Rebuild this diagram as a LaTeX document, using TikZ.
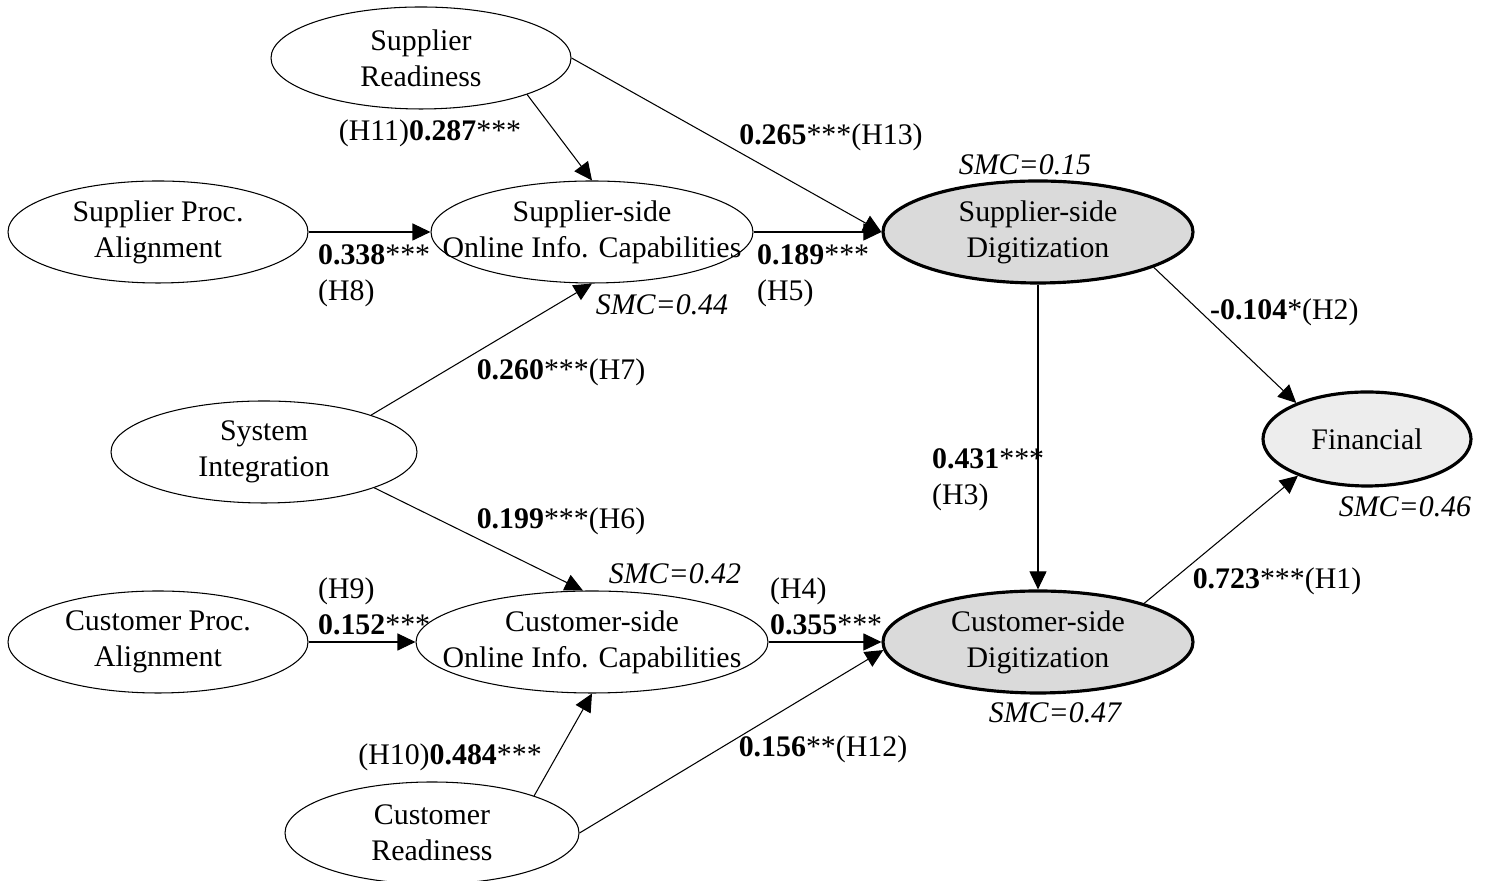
\documentclass[tikz,border=0pt]{standalone}
\usepackage{fontspec}
\setmainfont{Liberation Serif}
\usepackage{tikz}
\usetikzlibrary{arrows.meta,positioning,shapes.geometric}
\usepackage{xcolor}
\definecolor{digfill}{HTML}{DADADA}
\definecolor{finfill}{HTML}{EDEDED}
\tikzset{
  latent/.style={ellipse, draw=black, line width=0.6pt, fill=white, inner sep=0pt, minimum height=2.04cm},
  outcome/.style={latent, line width=1.8pt, fill=digfill},
  vtext/.style={align=center, font=\fontsize{17}{20.5}\selectfont},
  coef/.style={inner sep=1pt, font=\fontsize{17}{20.5}\selectfont},
  coefl/.style={coef, anchor=west, align=left},
  smc/.style={coef, font=\fontsize{17}{20.5}\selectfont\itshape},
  arrow/.style={-{Triangle[length=0.36cm, width=0.34cm]}, line width=0.6pt, draw=black}
}

\begin{document}
\begin{tikzpicture}
  \useasboundingbox (0,0) rectangle (29.78,17.62);
  \node[latent, minimum width=6.0cm, label={[vtext]center:Supplier\\Readiness}] (sread) at (8.42,16.46) {};
  \node[latent, minimum width=6.0cm, label={[vtext]center:Supplier Proc.\\Alignment}] (sproc) at (3.16,12.98) {};
  \node[latent, minimum width=6.44cm, label={[vtext]center:Supplier-side\\Online Info. Capabilities}] (sonline) at (11.84,12.98) {};
  \node[latent, minimum width=6.12cm, label={[vtext]center:System\\Integration}] (sysint) at (5.28,8.58) {};
  \node[latent, minimum width=6.0cm, label={[vtext]center:Customer Proc.\\Alignment}] (cproc) at (3.16,4.78) {};
  \node[latent, minimum width=7.04cm, label={[vtext]center:Customer-side\\Online Info. Capabilities}] (conline) at (11.84,4.78) {};
  \node[latent, minimum width=5.88cm, label={[vtext]center:Customer\\Readiness}] (cread) at (8.64,0.96) {};
  \node[outcome, minimum width=6.2cm, label={[vtext]center:Supplier-side\\Digitization}] (sdig) at (20.76,12.98) {};
  \node[outcome, minimum width=6.2cm, label={[vtext]center:Customer-side\\Digitization}] (cdig) at (20.76,4.78) {};
  \node[outcome, fill=finfill, minimum width=4.16cm, minimum height=1.88cm, label={[vtext]center:Financial}] (fin) at (27.34,8.84) {};

  \draw[arrow] (sread.-19) -- (sonline.north);
  \draw[arrow] (sread.east) -- (sdig.west);
  \draw[arrow] (sproc.east) -- (sonline.west);
  \draw[arrow] (sonline.east) -- (sdig.west);
  \draw[arrow] (sysint.19) -- (sonline.south);
  \draw[arrow] (sysint.-18) -- (conline.100);
  \draw[arrow] (cproc.east) -- (conline.west);
  \draw[arrow] (conline.east) -- (cdig.west);
  \draw[arrow] (cread.20) -- (conline.south);
  \draw[arrow] (cread.east) -- (cdig.183);
  \draw[arrow] (sdig.south) -- (cdig.north);
  \draw[arrow] (sdig.-17) -- (fin.153);
  \draw[arrow] (cdig.20) -- (fin.208);

  \node[coef] (h11) at (8.60,14.96) {(H11)\textbf{0.287}***};
  \node[coef] (h13) at (16.62,14.88) {\textbf{0.265}***(H13)};
  \node[coefl] (h8) at (6.32,12.10) {\textbf{0.338}***\\(H8)};
  \node[coefl] (h5) at (15.10,12.10) {\textbf{0.189}***\\(H5)};
  \node[coef, anchor=west] (h2) at (24.16,11.38) {\textbf{-0.104}*(H2)};
  \node[coef] (h7) at (11.22,10.18) {\textbf{0.260}***(H7)};
  \node[coefl] (h3) at (18.60,8.02) {\textbf{0.431}***\\(H3)};
  \node[coef] (h6) at (11.22,7.20) {\textbf{0.199}***(H6)};
  \node[coefl] (h9) at (6.32,5.50) {(H9)\\\textbf{0.152}***};
  \node[coefl] (h4) at (15.36,5.50) {(H4)\\\textbf{0.355}***};
  \node[coef] (h1) at (25.54,6.00) {\textbf{0.723}***(H1)};
  \node[coef] (h10) at (9.00,2.48) {(H10)\textbf{0.484}***};
  \node[coef] (h12) at (16.46,2.64) {\textbf{0.156}**(H12)};

  \node[smc] (smc-sdig) at (20.50,14.32) {SMC=0.15};
  \node[smc] (smc-sonline) at (13.24,11.52) {SMC=0.44};
  \node[smc] (smc-fin) at (28.10,7.48) {SMC=0.46};
  \node[smc] (smc-conline) at (13.50,6.14) {SMC=0.42};
  \node[smc] (smc-cdig) at (21.10,3.36) {SMC=0.47};
\end{tikzpicture}
\end{document}
